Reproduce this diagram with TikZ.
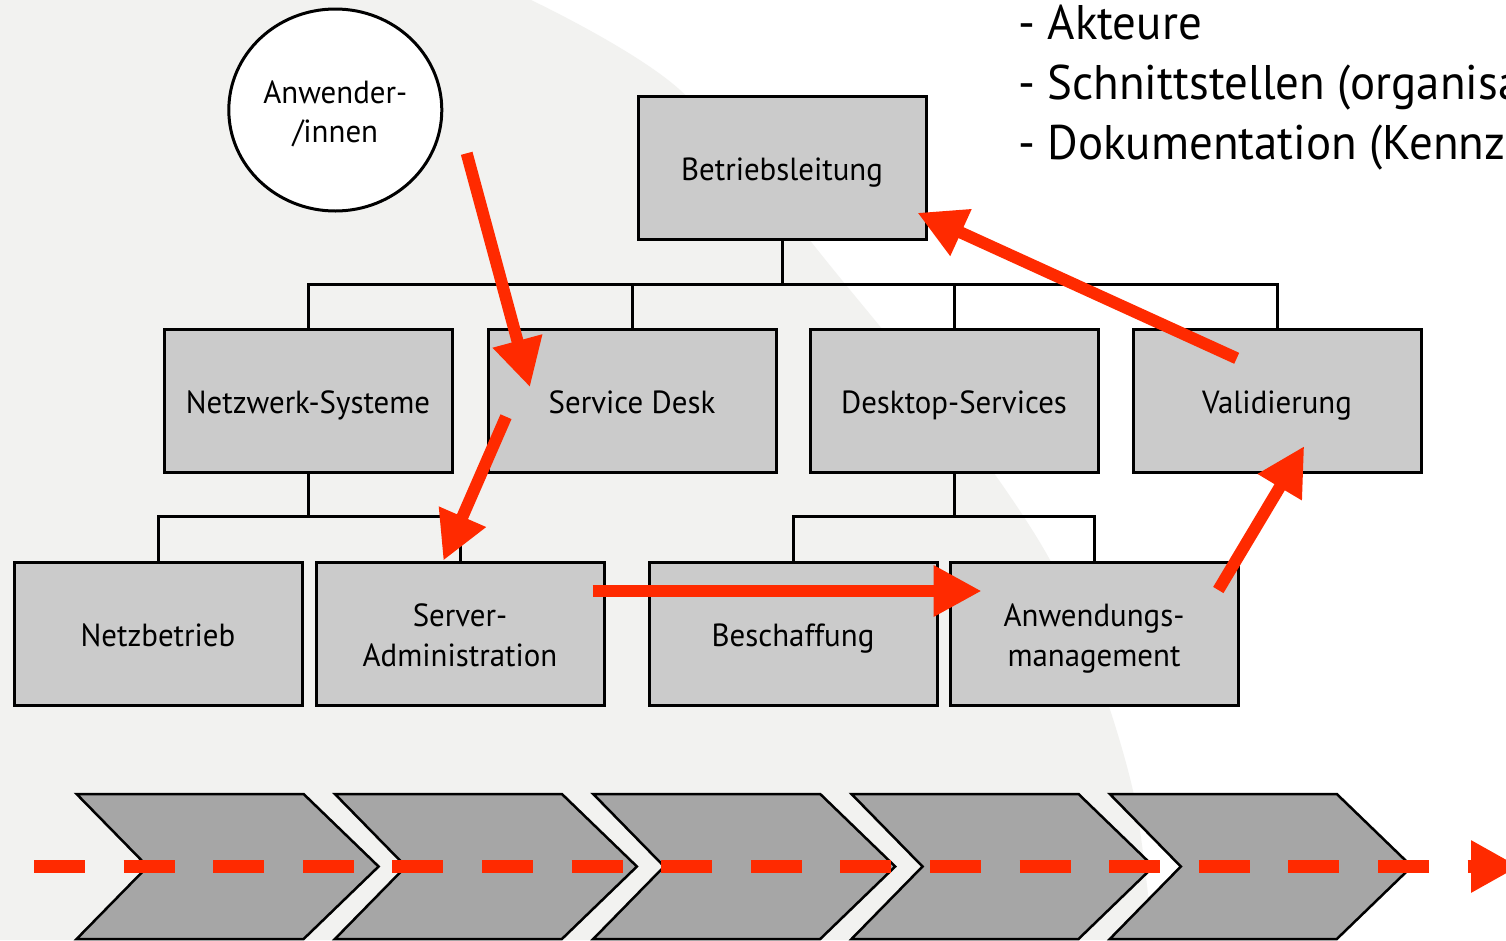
\documentclass[tikz,border=0pt]{standalone}
\usepackage{fontspec}
\setmainfont{PT Sans}[FakeStretch=0.965]
\usetikzlibrary{arrows.meta,shapes.geometric,calc}
\definecolor{bgleft}{RGB}{242,242,240}
\definecolor{boxgray}{RGB}{203,203,203}
\definecolor{chevgray}{RGB}{166,166,166}
\definecolor{flowred}{RGB}{255,42,0}

\begin{document}
\begin{tikzpicture}[x=1pt,y=-1pt,
  orgbox/.style={draw=black, line width=3pt, fill=boxgray,
    minimum width=288pt, minimum height=143pt, inner sep=0pt},
  actor/.style={draw=black, line width=3pt, fill=white, ellipse,
    minimum width=213pt, minimum height=202pt, inner sep=0pt},
  boxtext/.style={font=\fontsize{32}{40}\selectfont, anchor=base, inner sep=0pt},
  listtext/.style={font=\fontsize{48.6}{60}\selectfont, anchor=base west, inner sep=0pt},
  tree/.style={draw=black, line width=3pt},
  flow/.style={draw=flowred, line width=12pt, -{Triangle[length=48pt,width=48pt]}},
  chevron/.style={draw=black, line width=2.5pt, fill=chevgray},
  timeline/.style={draw=flowred, line width=12.7pt, dash pattern=on 51pt off 38.6pt,
    -{Triangle[length=48pt,width=49pt]}}
]
\useasboundingbox (0,0) rectangle (1506,940);

% background: light grey area on the left, white on the right
\fill[white] (0,0) rectangle (1506,940);
\fill[bgleft] (0,0) -- plot[smooth] coordinates {(531,0) (680,90) (850,290) (970,440)
  (1050,560) (1100,680) (1135,800) (1153,940)} -- (0,940) -- cycle;

% organisation chart
\node[orgbox] (betr) at (782,168.4) {};
\node[orgbox] (netz) at (308,401) {};
\node[orgbox] (sd) at (632,401) {};
\node[orgbox] (desk) at (954,401) {};
\node[orgbox] (valid) at (1277,401) {};
\node[orgbox] (netzb) at (158,634) {};
\node[orgbox] (server) at (460,634) {};
\node[orgbox] (besch) at (793,634) {};
\node[orgbox] (anw) at (1094,634) {};

\coordinate (bus) at (782,284.3);
\coordinate (busl) at (308,516.8);
\coordinate (busr) at (954,516.8);
\draw[tree] (betr.south) -- (bus);
\draw[tree] (netz.north) |- (bus) -| (valid.north);
\draw[tree] (sd.north) -- (sd.north |- bus);
\draw[tree] (desk.north) -- (desk.north |- bus);
\draw[tree] (netz.south) -- (busl);
\draw[tree] (netzb.north) |- (busl) -| (server.north);
\draw[tree] (desk.south) -- (busr);
\draw[tree] (besch.north) |- (busr) -| (anw.north);

\node[boxtext] (t-betr) at ($(betr.center)+(0,12.5)$) {Betriebsleitung};
\node[boxtext] (t-netz) at ($(netz.center)+(0,12.5)$) {Netzwerk-Systeme};
\node[boxtext] (t-sd) at ($(sd.center)+(0,12.5)$) {Service Desk};
\node[boxtext] (t-desk) at ($(desk.center)+(0,12.5)$) {Desktop-Services};
\node[boxtext] (t-valid) at ($(valid.center)+(0,12.5)$) {Validierung};
\node[boxtext] (t-netzb) at ($(netzb.center)+(0,12.5)$) {Netzbetrieb};
\node[boxtext] (t-server1) at ($(server.center)+(0,-7.3)$) {Server-};
\node[boxtext] (t-server2) at ($(server.center)+(0,32.7)$) {Administration};
\node[boxtext] (t-besch) at ($(besch.center)+(0,12.5)$) {Beschaffung};
\node[boxtext] (t-anw1) at ($(anw.center)+(0,-7.3)$) {Anwendungs-};
\node[boxtext] (t-anw2) at ($(anw.center)+(0,32.7)$) {management};

% users
\node[actor] (user) at (335.3,110) {};
\node[boxtext] (t-user1) at ($(user.center)+(0,-6.7)$) {Anwender-};
\node[boxtext] (t-user2) at ($(user.center)+(0,32.7)$) {/innen};

% list at the top right, running off the page edge
\node[listtext] (l1) at (1018,39) {- Akteure};
\node[listtext] (l2) at (1018,99) {- Schnittstellen (organisatorisch)};
\node[listtext] (l3) at (1018,159) {- Dokumentation (Kennzahlen)};

% process flow through the organisation
\coordinate (a1s) at (466.7,153.3); \coordinate (a1e) at (530,387.3);
\coordinate (a2s) at (506,416.7);   \coordinate (a2e) at (443.3,560.7);
\coordinate (a3s) at (592.7,591);   \coordinate (a3e) at (981.7,591);
\coordinate (a4s) at (1218.3,590);  \coordinate (a4e) at (1304.3,446);
\coordinate (a5s) at (1236.7,358.3); \coordinate (a5e) at (917.3,212.7);
\draw[flow] (a1s) -- (a1e);
\draw[flow] (a2s) -- (a2e);
\draw[flow] (a3s) -- (a3e);
\draw[flow] (a4s) -- (a4e);
\draw[flow] (a5s) -- (a5e);

% process chain
\foreach \x in {76.6,334.9,593.2,851.5,1109.8}{
  \draw[chevron] (\x,794) -- ++(227,0) -- ++(75,72.5) -- ++(-75,72.5)
    -- ++(-227,0) -- ++(71,-72.5) -- cycle;
}
\coordinate (tl-start) at (34,866.5);
\coordinate (tl-end) at (1519,866.5);
\draw[timeline] (tl-start) -- (tl-end);
\end{tikzpicture}
\end{document}
